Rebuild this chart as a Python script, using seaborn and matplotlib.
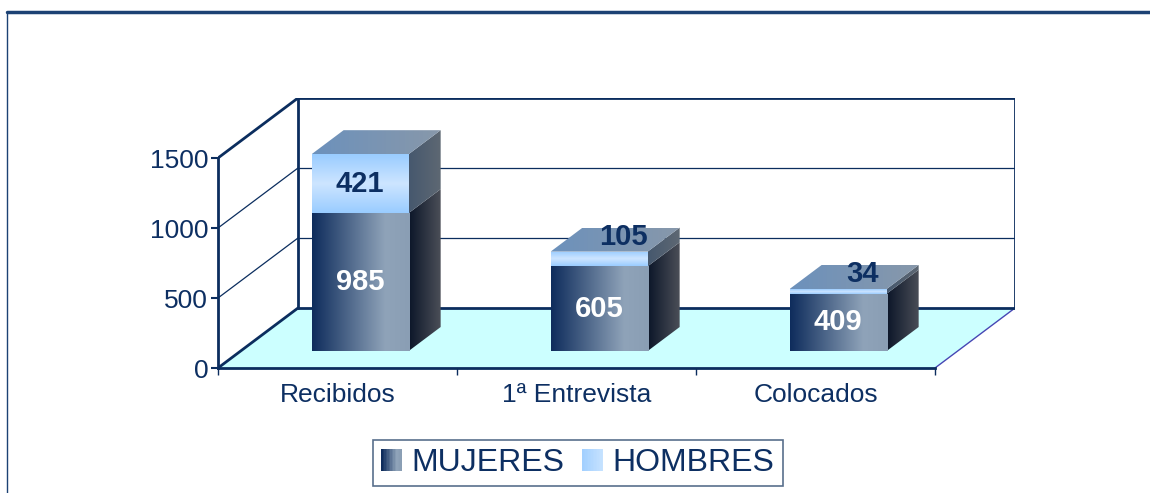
import numpy as np
import matplotlib
matplotlib.use('Agg')
import matplotlib.pyplot as plt
import seaborn as sns
from matplotlib.patches import Polygon, Rectangle
from matplotlib.colors import LinearSegmentedColormap
from matplotlib.transforms import Affine2D
from matplotlib.legend_handler import HandlerBase
from matplotlib.lines import Line2D

categorias = ['Recibidos', '1ª Entrevista', 'Colocados']
mujeres = [985, 605, 409]
hombres = [421, 105, 34]
series = ['MUJERES', 'HOMBRES']
yticks = [0, 500, 1000, 1500]
totales = [m + h for m, h in zip(mujeres, hombres)]

NAVY = '#0B2D5E'
TXT = '#0D2F62'
# gradient stops (position, colour)
MUJ_FRONT = [(0, '#0E2C5C'), (0.75, '#8FA3B9'), (1, '#8A9EB4')]
MUJ_SIDE = [(0, '#0C1629'), (1, '#4B4F58')]
HOM_FRONT = [(0, '#99CCFF'), (0.5, '#CDE5FF'), (1, '#99CCFF')]
HOM_SIDE = [(0, '#46586E'), (1, '#5E6873')]
TOP = [(0, '#6C91BC'), (1, '#8898AA')]

sns.set_style('white')
plt.rcParams['font.family'] = ['Liberation Sans', 'DejaVu Sans']

W, H = 1150, 493
fig = plt.figure(figsize=(W / 100, H / 100), dpi=100)

# axes box in pixels: front plane plus room for the back wall
x0, x1, y0, y1 = 218, 1015, 368, 98
DEPTH_PX = (80, 60)
ax = fig.add_axes([x0 / W, 1 - y0 / H, (x1 - x0) / W, (y0 - y1) / H])
ymax = yticks[-1]
ppx = (x1 - x0 - DEPTH_PX[0]) / len(categorias)
ppy = (y0 - y1 - DEPTH_PX[1]) / ymax
DX, DY = DEPTH_PX[0] / ppx, DEPTH_PX[1] / ppy
XL, XR = -0.5, len(categorias) - 0.5
BAR_W = 0.406
F0, F1 = 0.283, 0.683  # bar front / back depth


def P(x, y, f):
    return (x + f * DX, y + f * DY)


def grad(extent, stops, horizontal, transform, clip, z=3):
    cmap = LinearSegmentedColormap.from_list('g', stops)
    g = np.linspace(0, 1, 256)
    arr = g[None, :] if horizontal else g[:, None]
    im = ax.imshow(arr, cmap=cmap, extent=extent, origin='lower', aspect='auto',
                   interpolation='bilinear', transform=transform, zorder=z)
    im.set_clip_path(clip)
    return im


def face(verts, stops, horizontal=True):
    poly = Polygon(verts, closed=True, fc='none', ec='none', zorder=3)
    ax.add_patch(poly)
    xs, ys = zip(*verts)
    grad((min(xs), max(xs), min(ys), max(ys)), stops, horizontal, ax.transData, poly)


# floor
ax.add_patch(Polygon([P(XL, 0, 0), P(XR, 0, 0), P(XR, 0, 1), P(XL, 0, 1)],
                     closed=True, fc='#CCFFFF', ec='none', zorder=0.5))
ax.plot([XR, XR + DX], [0, DY], color='#4646B4', lw=1, zorder=1)

# walls and gridlines
for v in yticks:
    edge = v in (0, ymax)
    lw = 2 if edge else 0.9
    ax.plot([XL + DX, XR + DX], [v + DY] * 2, color=NAVY, lw=lw, zorder=1)
    ax.plot([XL, XL + DX], [v, v + DY], color=NAVY, lw=lw, zorder=1)
for xe in (XL + DX, XR + DX):
    ax.plot([xe, xe], [DY, ymax + DY], color=NAVY, lw=2, zorder=1)

# bars (front faces from seaborn, pushed back into depth)
n0 = len(ax.patches)
sns.barplot(x=categorias, y=totales, color='#99CCFF', width=BAR_W, ax=ax, zorder=3)
sns.barplot(x=categorias, y=mujeres, color='#4A6487', width=BAR_W, ax=ax, zorder=4)
bars = ax.patches[n0:]
tot_bars, muj_bars = bars[:3], bars[3:]
front_tf = Affine2D().translate(F0 * DX, F0 * DY) + ax.transData

for i in range(len(categorias)):
    m, h, t = mujeres[i], hombres[i], totales[i]
    tb, mb = tot_bars[i], muj_bars[i]
    xl = mb.get_x()
    xr = xl + mb.get_width()
    for b in (tb, mb):
        b.set_transform(front_tf)
        b.set_facecolor('none')
        b.set_edgecolor('none')
    grad((xl, xr, m, t), HOM_FRONT, False, front_tf, tb, z=3)
    grad((xl, xr, 0, m), MUJ_FRONT, True, front_tf, mb, z=4)
    # side faces
    face([P(xr, 0, F0), P(xr, m, F0), P(xr, m, F1), P(xr, 0, F1)], MUJ_SIDE)
    face([P(xr, m, F0), P(xr, t, F0), P(xr, t, F1), P(xr, m, F1)], HOM_SIDE)
    # top face
    face([P(xl, t, F0), P(xr, t, F0), P(xr, t, F1), P(xl, t, F1)], TOP)

    xc = (xl + xr) / 2 + F0 * DX
    ax.text(xc, F0 * DY + m / 2, str(m), color='white', ha='center', va='center',
            fontsize=21, fontweight='bold', zorder=6)
    if h >= 200:
        hx, hy = xc, F0 * DY + m + h / 2
    else:
        hx, hy = xc + 0.1, F0 * DY + t + 105
    ax.text(hx, hy, str(h), color=TXT, ha='center', va='center',
            fontsize=21, fontweight='bold', zorder=6)

# axes
ax.set_xlim(XL, XR + DX)
ax.set_ylim(0, ymax + DY)
ax.set_yticks(yticks)
ax.set_yticklabels([str(v) for v in yticks])
ax.set_xticks(range(len(categorias)))
ax.set_xticklabels(categorias)
ax.set_xticks(np.arange(XL, XR + 0.5, 1.0), minor=True)
ax.set_xlabel('')
ax.set_ylabel('')
ax.tick_params(axis='x', which='major', length=0, pad=11, labelsize=19, labelcolor=TXT, bottom=True)
ax.tick_params(axis='x', which='minor', length=5, width=1, color=NAVY, bottom=True)
ax.tick_params(axis='y', length=5, width=1.5, color=NAVY, labelsize=19, labelcolor=TXT, pad=2, left=True)
for s in ('top', 'right'):
    ax.spines[s].set_visible(False)
ax.spines['left'].set_bounds(0, ymax)
ax.spines['bottom'].set_bounds(XL, XR)
for s in ('left', 'bottom'):
    ax.spines[s].set_color(NAVY)
    ax.spines[s].set_linewidth(2)
    ax.spines[s].set_zorder(2)
ax.patch.set_alpha(0)


class GradHandler(HandlerBase):
    def __init__(self, stops):
        super().__init__()
        self.cmap = LinearSegmentedColormap.from_list('h', stops)

    def create_artists(self, legend, orig_handle, xd, yd, w, h, fontsize, trans):
        n = 14
        return [Rectangle((xd + w * k / n, yd), w / n * 1.05, h, fc=self.cmap(k / (n - 1)),
                          ec='none', transform=trans) for k in range(n)]


h_muj = Rectangle((0, 0), 1, 1)
h_hom = Rectangle((0, 0), 1, 1)
leg = fig.legend([h_muj, h_hom], series,
                 handler_map={h_muj: GradHandler(MUJ_FRONT), h_hom: GradHandler([(0, '#A3D0FF'), (1, '#C6E2FF')])},
                 loc='center', bbox_to_anchor=(578 / W, 1 - 463 / H), ncol=2, fontsize=23,
                 frameon=True, fancybox=False, edgecolor='#2F4B70', handlelength=0.65,
                 handleheight=0.7, handletextpad=0.3, columnspacing=0.55, borderpad=0.25,
                 borderaxespad=0)
for t in leg.get_texts():
    t.set_color(TXT)
leg.get_frame().set_linewidth(1.2)

# outer chart frame
fig.add_artist(Line2D([7 / W, 1], [1 - 12 / H] * 2, color='#1C4274', lw=2.5))
fig.add_artist(Line2D([7 / W] * 2, [0, 1 - 12 / H], color='#1C4274', lw=1))

fig.savefig('out.png', dpi=100)
